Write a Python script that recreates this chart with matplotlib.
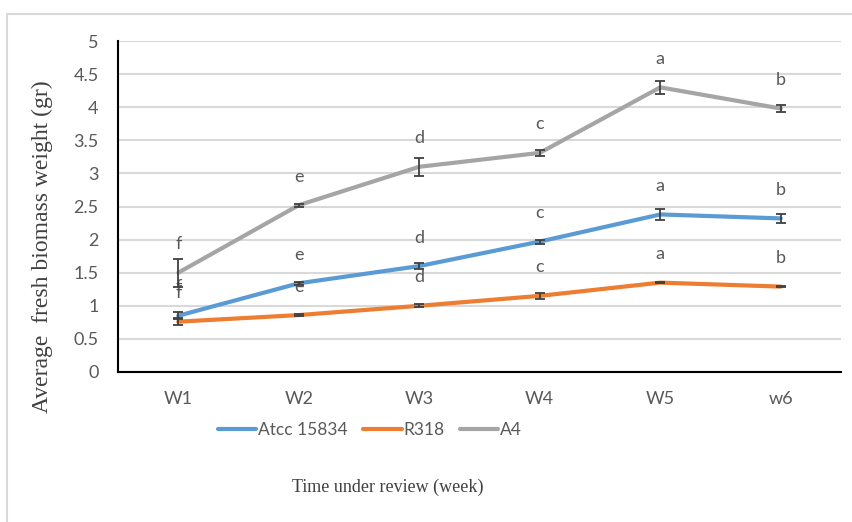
import matplotlib.pyplot as plt
import matplotlib.patches as patches
import numpy as np

weeks = ['W1', 'W2', 'W3', 'W4', 'W5', 'w6']
series_names = ['Atcc 15834', 'R318', 'A4']

atcc = [0.85, 1.34, 1.60, 1.97, 2.38, 2.32]
r318 = [0.76, 0.86, 1.00, 1.15, 1.35, 1.29]
a4 = [1.50, 2.52, 3.10, 3.31, 4.30, 3.98]

atcc_err = [0.05, 0.02, 0.04, 0.03, 0.08, 0.07]
r318_err = [0.05, 0.01, 0.02, 0.04, 0.01, 0.01]
a4_err = [0.21, 0.02, 0.14, 0.04, 0.10, 0.05]

atcc_letters = ['f', 'e', 'd', 'c', 'a', 'b']
r318_letters = ['f', 'e', 'd', 'c', 'a', 'b']
a4_letters = ['f', 'e', 'd', 'c', 'a', 'b']

colors = ['#5B9BD5', '#ED7D31', '#A5A5A5']
tick_gray = '#595959'

plt.rcParams['font.family'] = ['Lato', 'DejaVu Sans']

fig = plt.figure(figsize=(8.53, 5.22), dpi=100)

# outer chart border
fig.patches.append(patches.Rectangle((7 / 853, -0.1), 1.0, (522 - 14) / 522 + 0.1,
                                     transform=fig.transFigure, fill=False,
                                     edgecolor='#d9d9d9', linewidth=1.5))

ax = fig.add_axes([118 / 853, 150 / 522, 723 / 853, 331 / 522])
x = np.arange(len(weeks))

handles = []
for vals, errs, letters, col, name in zip([atcc, r318, a4],
                                          [atcc_err, r318_err, a4_err],
                                          [atcc_letters, r318_letters, a4_letters],
                                          colors, series_names):
    h, = ax.plot(x, vals, color=col, lw=3, solid_capstyle='round', label=name, zorder=3)
    ax.errorbar(x, vals, yerr=errs, fmt='none', ecolor='#404040', elinewidth=1.3,
                capsize=3.5, capthick=1.3, zorder=4)
    for xi, v, lt in zip(x, vals, letters):
        ax.annotate(lt, (xi, v), xytext=(0, 20.5), textcoords='offset points',
                    ha='center', va='center', fontsize=13, color=tick_gray)
    handles.append(h)

ax.set_xlim(-0.5, len(weeks) - 0.5)
ax.set_ylim(0, 5)
ax.set_yticks(np.arange(0, 5.01, 0.5))
ax.set_yticklabels(['0', '0.5', '1', '1.5', '2', '2.5', '3', '3.5', '4', '4.5', '5'])
ax.set_xticks(x)
ax.set_xticklabels(weeks)
ax.tick_params(axis='both', length=0, labelsize=13, labelcolor=tick_gray)
ax.tick_params(axis='y', pad=14)
ax.tick_params(axis='x', pad=14)
ax.yaxis.grid(True, color='#d9d9d9', lw=1.5)
ax.set_axisbelow(True)
for s in ['top', 'right']:
    ax.spines[s].set_visible(False)
ax.spines['left'].set_color('black')
ax.spines['left'].set_linewidth(1.5)
ax.spines['bottom'].set_color('black')
ax.spines['bottom'].set_linewidth(1.5)

ax.set_ylabel('Average  fresh biomass weight (gr)', family='Liberation Serif',
              fontsize=17, color='#404040')
ax.yaxis.set_label_coords(-65 / 723, 0.378)

fig.text(388 / 853, 1 - 487 / 522, 'Time under review (week)', family='Liberation Serif',
         fontsize=13, color='#404040', ha='center', va='center')

fig.legend(handles=handles, loc='center', bbox_to_anchor=(370 / 853, 1 - 430 / 522),
           ncol=3, frameon=False, fontsize=12.5, labelcolor=tick_gray,
           handlelength=2.2, handletextpad=0.1, columnspacing=0.9)

fig.savefig('out.png', dpi=100)
